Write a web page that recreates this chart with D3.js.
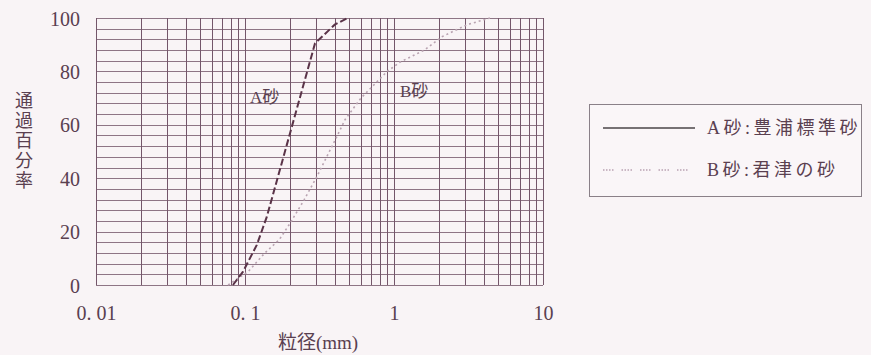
<!DOCTYPE html>
<html>
<head>
<meta charset="utf-8">
<script src="https://cdn.jsdelivr.net/npm/d3@7"></script>
<style>
  html, body { margin: 0; padding: 0; background: #f9f4f6; }
  svg { display: block; }
  text { font-family: "Liberation Serif", "Noto Sans CJK JP", serif; fill: #5a4050; }
</style>
</head>
<body>
<svg id="chart" width="871" height="355"></svg>
<script>
// Grain size distribution curves (passing percentage vs. particle diameter)
const sandANames = "A砂";
const sandBNames = "B砂";
const legendLabels = ["A砂:豊浦標準砂", "B砂:君津の砂"];

// A砂 (Toyoura standard sand): particle size in mm, percent passing
const sandASize    = [0.083, 0.097, 0.12, 0.14, 0.295, 0.40, 0.49];
const sandAPassing = [0,     5,     15,   25.5, 90.5,  97.5, 100];

// B砂 (Kimitsu sand)
const sandBSize    = [0.077, 0.105, 0.136, 0.17, 0.20, 0.25, 0.30, 0.40, 0.47, 0.60, 0.90, 1.10, 1.60, 2.10, 3.10, 4.40];
const sandBPassing = [0,     5,     12,    17,   23,   32,   40,   54,   62,   70,   80,   83.5, 88,   93,   97.5, 100];

const xTickValues = [0.01, 0.1, 1, 10];
const xTickLabels = ["0. 01", "0. 1", "1", "10"];
const yTickValues = [0, 20, 40, 60, 80, 100];
const yGridStep = 4;

const svg = d3.select("#chart");
const plot = { left: 96, right: 543, top: 18, bottom: 285 };

const x = d3.scaleLog().domain([0.01, 10]).range([plot.left, plot.right]);
const y = d3.scaleLinear().domain([0, 100]).range([plot.bottom, plot.top]);

// horizontal grid
const grid = svg.append("g");
grid.selectAll("line.h")
  .data(d3.range(0, 100 + yGridStep / 2, yGridStep))
  .join("line")
  .attr("class", "h")
  .attr("x1", plot.left).attr("x2", plot.right)
  .attr("y1", d => Math.round(y(d)) + 0.5).attr("y2", d => Math.round(y(d)) + 0.5)
  .attr("stroke", "#8e7585").attr("stroke-width", 1);

// vertical log grid (1..9 per decade)
grid.selectAll("line.v")
  .data(x.ticks())
  .join("line")
  .attr("class", "v")
  .attr("x1", d => Math.round(x(d)) + 0.5).attr("x2", d => Math.round(x(d)) + 0.5)
  .attr("y1", plot.top).attr("y2", plot.bottom)
  .attr("stroke", "#74566a").attr("stroke-width", 1);

// axes (labels only)
const xAxis = d3.axisBottom(x)
  .tickValues(xTickValues)
  .tickFormat((d, i) => xTickLabels[i])
  .tickSize(0).tickPadding(0);
const gx = svg.append("g").attr("transform", `translate(0,${plot.bottom + 21})`).call(xAxis);
gx.select(".domain").remove();
gx.selectAll("text").attr("font-size", 20).attr("font-family", null).attr("fill", null).attr("dy", "0.71em");

const yAxis = d3.axisLeft(y).tickValues(yTickValues).tickSize(0).tickPadding(0);
const gy = svg.append("g").attr("transform", "translate(80,0)").call(yAxis);
gy.select(".domain").remove();
gy.selectAll("text").attr("font-size", 20).attr("font-family", null).attr("fill", null).attr("dy", "0.35em");

// curves
const line = d3.line().x(d => x(d[0])).y(d => y(d[1]));
const sandA = d3.zip(sandASize, sandAPassing);
const sandB = d3.zip(sandBSize, sandBPassing);

svg.append("path").datum(sandB)
  .attr("d", line).attr("fill", "none")
  .attr("stroke", "#b9a3b1").attr("stroke-width", 1.6)
  .attr("stroke-dasharray", "2,3");

svg.append("path").datum(sandA)
  .attr("d", line).attr("fill", "none")
  .attr("stroke", "#5a3348").attr("stroke-width", 2)
  .attr("stroke-dasharray", "7,3");

// curve labels
svg.append("text").attr("x", 250).attr("y", 103).attr("font-size", 17).text(sandANames);
svg.append("text").attr("x", 400).attr("y", 97).attr("font-size", 17).text(sandBNames);

// axis titles
svg.append("text").attr("x", 318).attr("y", 349).attr("text-anchor", "middle")
  .attr("font-size", 19).text("粒径(mm)");
const yTitle = "通過百分率".split("");
svg.append("g").selectAll("text").data(yTitle).join("text")
  .attr("x", 24).attr("y", (d, i) => 107 + i * 20)
  .attr("text-anchor", "middle").attr("font-size", 18).text(d => d);

// legend
const lg = svg.append("g");
lg.append("rect").attr("x", 589.5).attr("y", 104.5).attr("width", 272).attr("height", 92)
  .attr("fill", "#faf6f8").attr("stroke", "#8a8088").attr("stroke-width", 1);
lg.append("line").attr("x1", 603).attr("x2", 695).attr("y1", 128).attr("y2", 128)
  .attr("stroke", "#4a4448").attr("stroke-width", 1.5);
lg.append("line").attr("x1", 603).attr("x2", 692).attr("y1", 170).attr("y2", 170)
  .attr("stroke", "#b9a3b1").attr("stroke-width", 1.5)
  .attr("stroke-dasharray", "1.5,1.5,1.5,1.5,1.5,1.5,1.5,8");
lg.selectAll("text.leg").data(legendLabels).join("text")
  .attr("class", "leg")
  .attr("x", 707).attr("y", (d, i) => 128 + i * 42).attr("dy", "0.35em")
  .attr("font-size", 18).attr("letter-spacing", 3.5).text(d => d);
</script>
</body>
</html>
